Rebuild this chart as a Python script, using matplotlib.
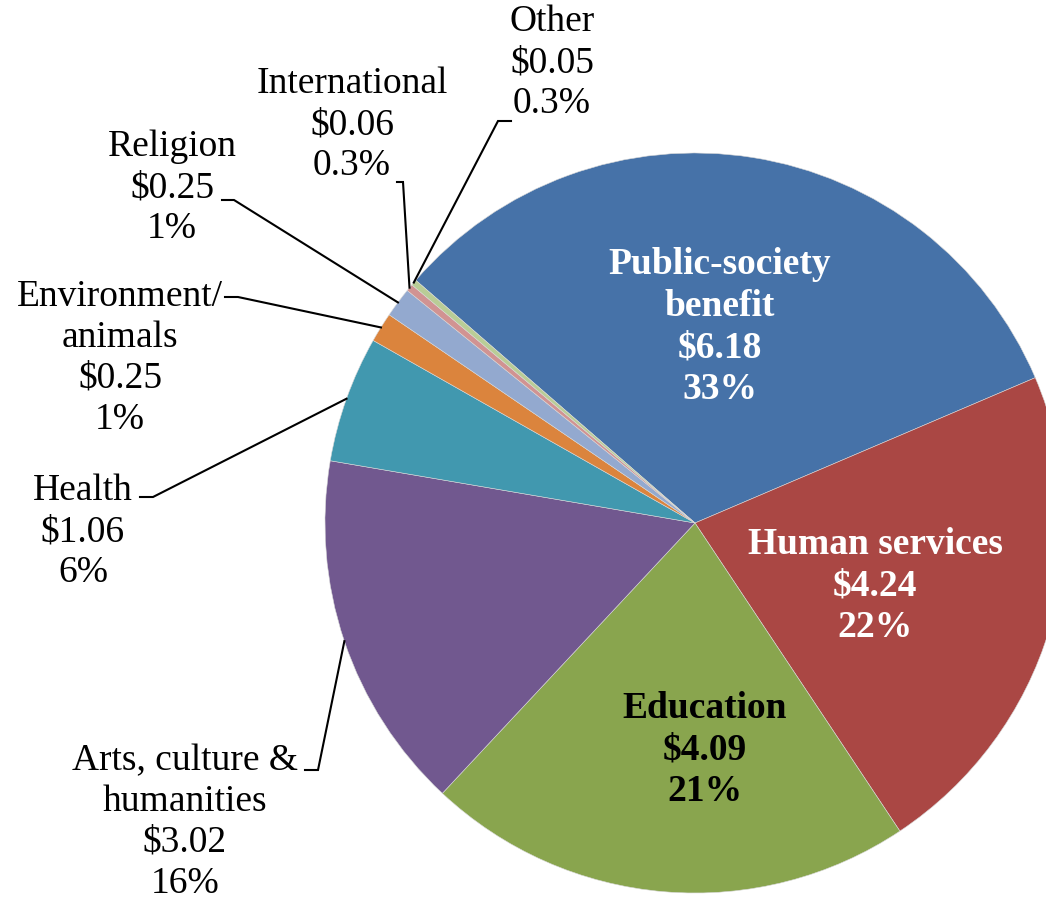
import numpy as np
import matplotlib
matplotlib.use('Agg')
import matplotlib.pyplot as plt

plt.rcParams['font.family'] = ['Liberation Serif', 'DejaVu Serif']

categories = ['Public-society\nbenefit', 'Human services', 'Education',
              'Arts, culture &\nhumanities', 'Health', 'Environment/\nanimals',
              'Religion', 'International', 'Other']
amounts = [6.18, 4.24, 4.09, 3.02, 1.06, 0.25, 0.25, 0.06, 0.05]
percents = ['33%', '22%', '21%', '16%', '6%', '1%', '1%', '0.3%', '0.3%']
colors = ['#4672A8', '#AA4744', '#89A54E', '#71588F', '#4198AF',
          '#DB843D', '#93A9CF', '#D19392', '#B9CD96']

W, H = 1046, 902
fig = plt.figure(figsize=(W / 100, H / 100), dpi=100)
ax = fig.add_axes([0, 0, 1, 1])

cx, cy, R = 695, H - 523, 370
wedges, _ = ax.pie(amounts, colors=colors, startangle=139.0, counterclock=False,
                   center=(cx, cy), radius=R,
                   wedgeprops=dict(linewidth=0.4, edgecolor='#d8d8d8'))
ax.set_xlim(0, W)
ax.set_ylim(0, H)
ax.axis('off')

fs = 27
ls = 1.24

# labels inside the big slices: (x, y in image px, colour)
inside = {0: (720, 327, 'white'), 1: (875, 586, 'white'), 2: (705, 750, 'black')}
for i, (x, y, c) in inside.items():
    ax.text(x, H - y, f'{categories[i]}\n${amounts[i]:.2f}\n{percents[i]}',
            ha='center', va='center', fontsize=fs, fontweight='bold', color=c,
            linespacing=ls)

# outside labels: text centre, elbow point and tick end (image px)
outside = {
    3: ((185, 822), (318, 770), (305, 770)),
    4: ((83, 532), (153, 497), (140, 497)),
    5: ((120, 358), (238, 297), (225, 297)),
    6: ((172, 188), (234, 200), (222, 200)),
    7: ((352, 125), (403, 182), (397, 182)),
    8: ((552, 63), (498, 121), (511, 121)),
}
for i, (tpos, elbow, tick) in outside.items():
    ax.text(tpos[0], H - tpos[1], f'{categories[i]}\n${amounts[i]:.2f}\n{percents[i]}',
            ha='center', va='center', fontsize=fs, color='black', linespacing=ls)
    w = wedges[i]
    mid = np.deg2rad((w.theta1 + w.theta2) / 2)
    px, py = cx + R * np.cos(mid), cy + R * np.sin(mid)
    ax.plot([px, elbow[0], tick[0]], [py, H - elbow[1], H - tick[1]],
            color='black', lw=1.5, solid_joinstyle='miter')

fig.savefig('out.png', dpi=100)
